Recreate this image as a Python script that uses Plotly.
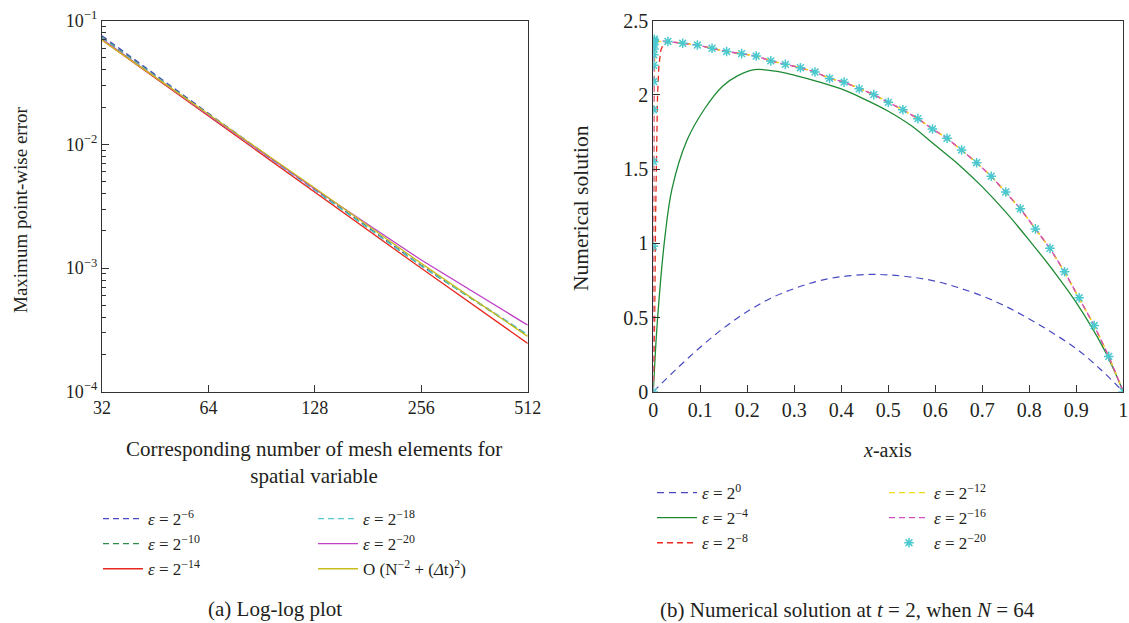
import plotly.graph_objects as go

# ---------------- data: (a) log-log plot ----------------
N_mesh = [32, 64, 128, 256, 512]
err_eps6 = [0.0755, 0.0178, 0.00432, 0.00105, 0.000288]
err_eps10 = [0.0735, 0.0175, 0.00428, 0.00104, 0.000286]
err_eps14 = [0.0700, 0.0170, 0.00411, 0.000995, 0.000246]
err_eps18 = [0.0725, 0.0174, 0.00425, 0.00104, 0.000290]
err_eps20 = [0.0710, 0.0173, 0.00435, 0.00116, 0.000345]
err_order = [0.0697, 0.0177, 0.00443, 0.00109, 0.000280]
x_ticks_a = [32, 64, 128, 256, 512]
y_ticks_a = [0.1, 0.01, 0.001, 0.0001]
y_ticktext_a = ["10<sup>−1</sup>", "10<sup>−2</sup>", "10<sup>−3</sup>", "10<sup>−4</sup>"]
y_minor_a = [2e-4, 3e-4, 4e-4, 5e-4, 6e-4, 7e-4, 8e-4, 9e-4,
             2e-3, 3e-3, 4e-3, 5e-3, 6e-3, 7e-3, 8e-3, 9e-3,
             2e-2, 3e-2, 4e-2, 5e-2, 6e-2, 7e-2, 8e-2, 9e-2]

# ---------------- data: (b) numerical solution ----------------
x_eps0 = [0, 0.05, 0.1, 0.15, 0.2, 0.25, 0.3, 0.35, 0.4, 0.46, 0.5, 0.55, 0.6, 0.65, 0.7, 0.75, 0.8, 0.85, 0.9, 0.95, 1.0]
u_eps0 = [0, 0.155, 0.30, 0.43, 0.54, 0.63, 0.695, 0.745, 0.775, 0.79, 0.787, 0.772, 0.745, 0.70, 0.645, 0.575, 0.49, 0.395, 0.29, 0.155, 0]

x_eps4 = [0, 0.009, 0.025, 0.04, 0.071, 0.11, 0.148, 0.18, 0.215, 0.26, 0.303, 0.35, 0.4, 0.45, 0.5, 0.55, 0.6, 0.65, 0.7, 0.75, 0.8, 0.85, 0.9, 0.96, 1.0]
u_eps4 = [0, 0.49, 1.05, 1.37, 1.69, 1.91, 2.06, 2.13, 2.17, 2.16, 2.13, 2.09, 2.04, 1.97, 1.89, 1.79, 1.66, 1.53, 1.38, 1.21, 1.02, 0.82, 0.60, 0.28, 0]

# coarse (outer) mesh region shared by the small-epsilon solutions
x_outer = [0.031, 0.0625, 0.0938, 0.125, 0.156, 0.188, 0.219, 0.25, 0.281, 0.313, 0.344, 0.375, 0.406,
           0.438, 0.469, 0.5, 0.531, 0.563, 0.594, 0.625, 0.656, 0.688, 0.719, 0.75, 0.781, 0.813,
           0.844, 0.875, 0.906, 0.938, 0.969, 1.0]
u_outer = [2.36, 2.348, 2.336, 2.314, 2.292, 2.278, 2.262, 2.229, 2.206, 2.183, 2.154, 2.111, 2.086,
           2.041, 2.002, 1.95, 1.90, 1.84, 1.77, 1.708, 1.629, 1.543, 1.452, 1.346, 1.233, 1.097,
           0.966, 0.808, 0.633, 0.446, 0.238, 0]

x_layer_eps8 = [0, 0.003, 0.005, 0.007, 0.009, 0.012, 0.016, 0.021]
u_layer_eps8 = [0, 0.5, 1.2, 1.7, 2.0, 2.2, 2.3, 2.34]
x_layer_eps12 = [0, 0.0006, 0.0012, 0.0018, 0.0024, 0.003, 0.0036, 0.0045]
u_layer_eps12 = [0, 0.98, 1.55, 1.90, 2.09, 2.22, 2.30, 2.36]
x_layer_eps16 = [0, 0.0003, 0.0006, 0.0009, 0.0012, 0.0015, 0.0018, 0.0024]
u_layer_eps16 = [0, 0.98, 1.55, 1.90, 2.09, 2.22, 2.30, 2.37]
x_layer_eps20 = [0, 0.0002, 0.0004, 0.0006, 0.0008, 0.0010, 0.0012, 0.0014, 0.0016, 0.0018, 0.0020, 0.0022]
u_layer_eps20 = [0, 0.98, 1.55, 1.90, 2.09, 2.20, 2.27, 2.31, 2.34, 2.36, 2.37, 2.375]

FONT = "Liberation Serif"
INK = "#231f20"
W, H = 1129, 623

# panel geometry (pixels)
ax_l, ax_r = 102, 527.7
bx_l, bx_r = 653.3, 1123.3
p_top, p_bot = 20.7, 391.7

def px(x):
    return x / W

def py(y):
    return 1 - y / H

fig = go.Figure()

def eps_label(p):
    return "<i>ε</i> = 2<sup>" + p + "</sup>"

# ---- panel (a) ----
fig.add_trace(go.Scatter(x=N_mesh, y=err_eps6, mode="lines", name=eps_label("−6"),
                         line=dict(color="#4848c0", width=1.3, dash="6px,4px"), xaxis="x", yaxis="y", legend="legend"))
fig.add_trace(go.Scatter(x=N_mesh, y=err_eps10, mode="lines", name=eps_label("−10"),
                         line=dict(color="#2e8b48", width=1.3, dash="6px,4px"), xaxis="x", yaxis="y", legend="legend"))
fig.add_trace(go.Scatter(x=N_mesh, y=err_eps14, mode="lines", name=eps_label("−14"),
                         line=dict(color="#e8281e", width=1.3), xaxis="x", yaxis="y", legend="legend"))
fig.add_trace(go.Scatter(x=N_mesh, y=err_eps18, mode="lines", name=eps_label("−18"),
                         line=dict(color="#55c8d2", width=1.3, dash="6px,4px"), xaxis="x", yaxis="y", legend="legend2"))
fig.add_trace(go.Scatter(x=N_mesh, y=err_eps20, mode="lines", name=eps_label("−20"),
                         line=dict(color="#c040c8", width=1.3), xaxis="x", yaxis="y", legend="legend2"))
fig.add_trace(go.Scatter(x=N_mesh, y=err_order, mode="lines", name="O (N<sup>−2</sup> + (<i>Δ</i>t)<sup>2</sup>)",
                         line=dict(color="#c8be1e", width=1.3), xaxis="x", yaxis="y", legend="legend2"))

# ---- panel (b) ----
fig.add_trace(go.Scatter(x=x_eps0, y=u_eps0, mode="lines", name=eps_label("0"), line_shape="spline",
                         line=dict(color="#4848c0", width=1.2, dash="7px,5px"), xaxis="x2", yaxis="y2", legend="legend3"))
fig.add_trace(go.Scatter(x=x_eps4, y=u_eps4, mode="lines", name=eps_label("−4"), line_shape="spline",
                         line=dict(color="#1e8a35", width=1.3), xaxis="x2", yaxis="y2", legend="legend3"))
fig.add_trace(go.Scatter(x=x_layer_eps8 + x_outer, y=u_layer_eps8 + u_outer, mode="lines", name=eps_label("−8"),
                         line=dict(color="#e8281e", width=1.3, dash="6px,4px"), xaxis="x2", yaxis="y2", legend="legend3"))
fig.add_trace(go.Scatter(x=x_layer_eps12 + x_outer, y=u_layer_eps12 + u_outer, mode="lines", name=eps_label("−12"),
                         line=dict(color="#f2dc1a", width=1.3, dash="6px,4px"), xaxis="x2", yaxis="y2", legend="legend4"))
fig.add_trace(go.Scatter(x=x_layer_eps16 + x_outer, y=u_layer_eps16 + u_outer, mode="lines", name=eps_label("−16"),
                         line=dict(color="#d050c0", width=1.3, dash="6px,4px"), xaxis="x2", yaxis="y2", legend="legend4"))
fig.add_trace(go.Scatter(x=x_layer_eps20 + x_outer, y=u_layer_eps20 + u_outer, mode="markers", name=eps_label("−20"),
                         marker=dict(symbol="asterisk-open", size=8, color="#4cc9cf", line=dict(color="#4cc9cf", width=1.5)),
                         xaxis="x2", yaxis="y2", legend="legend4"))

def axis_common(fs):
    return dict(showline=True, linecolor="#333333", linewidth=1.3, mirror=True, showgrid=False,
                zeroline=False, ticks="inside", ticklen=7, tickcolor="#333333", tickwidth=1.2,
                automargin=False, tickfont=dict(family=FONT, size=fs, color=INK))

legend_common = dict(bgcolor="rgba(0,0,0,0)", font=dict(family=FONT, size=17, color=INK),
                     xanchor="left", yanchor="top", tracegroupgap=0, itemwidth=40, orientation="v",
                     borderwidth=0)

fig.update_layout(
    width=W, height=H,
    margin=dict(l=0, r=0, t=0, b=0, autoexpand=False),
    paper_bgcolor="white", plot_bgcolor="white",
    xaxis=dict(axis_common(18), type="log", domain=[px(ax_l), px(ax_r)],
               range=[1.50515, 2.70927], tickvals=x_ticks_a, ticktext=[str(v) for v in x_ticks_a], anchor="y"),
    yaxis=dict(axis_common(18), type="log", domain=[py(p_bot), py(p_top)], range=[-4, -1],
               tickvals=y_ticks_a, ticktext=y_ticktext_a, anchor="x",
               minor=dict(tickvals=y_minor_a, ticks="inside", ticklen=4, tickcolor="#333333", showgrid=False)),
    xaxis2=dict(axis_common(20), domain=[px(bx_l), px(bx_r)], range=[0, 1], tick0=0, dtick=0.1, anchor="y2"),
    yaxis2=dict(axis_common(20), domain=[py(p_bot), py(p_top)], range=[0, 2.5], tick0=0, dtick=0.5, anchor="x2"),
    showlegend=True,
    legend=dict(legend_common, x=px(98), y=py(501)),
    legend2=dict(legend_common, x=px(313), y=py(501)),
    legend3=dict(legend_common, x=px(652), y=py(475)),
    legend4=dict(legend_common, x=px(884), y=py(475)),
)

def note(x, y, text, size, angle=0):
    fig.add_annotation(x=px(x), y=py(y), xref="paper", yref="paper", showarrow=False,
                       xanchor="center", yanchor="middle", textangle=angle, text=text, align="center",
                       font=dict(family=FONT, size=size, color=INK))

note(314, 462, "Corresponding number of mesh elements for<br>spatial variable", 21)
note(21, 210, "Maximum point-wise error", 19, -90)
note(887, 450, "<i>x</i>-axis", 20)
note(581, 208, "Numerical solution", 21.5, -90)
note(275, 609, "(a) Log-log plot", 21)
note(847, 610, "(b) Numerical solution at <i>t</i> = 2, when <i>N</i> = 64", 21)

fig.write_html("out.html", config={"displayModeBar": False},
               post_script="document.body.style.margin='0';document.body.style.overflow='hidden';")
